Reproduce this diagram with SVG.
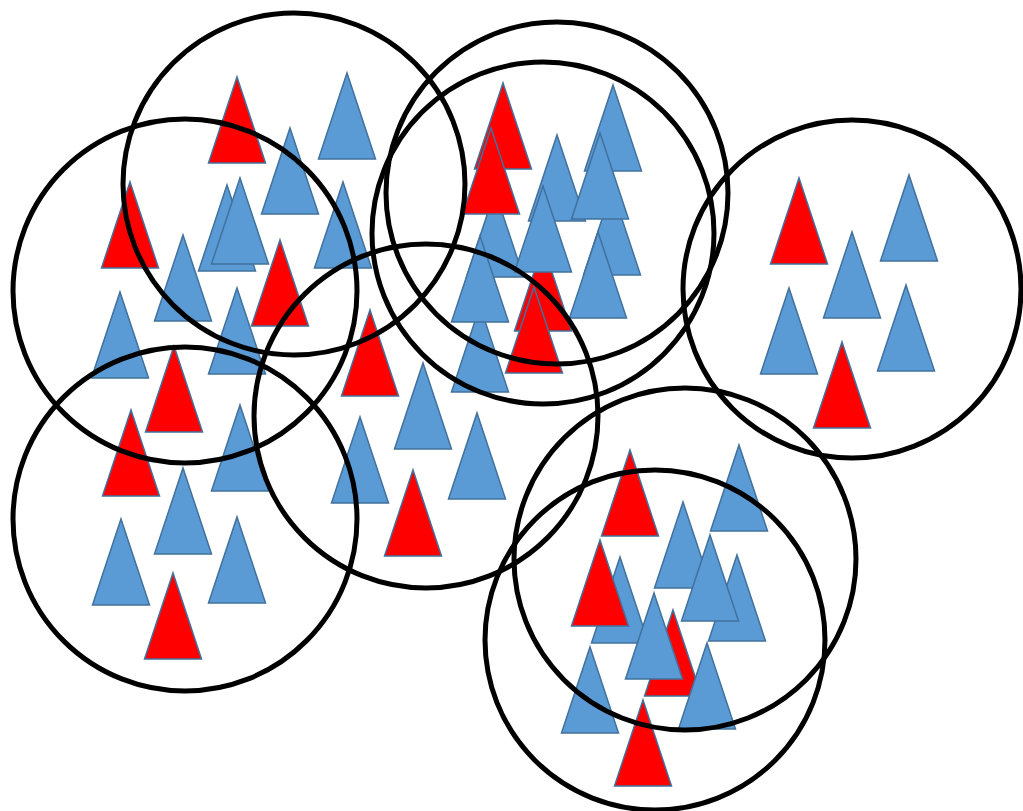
<svg xmlns="http://www.w3.org/2000/svg" width="1023" height="811" viewBox="0 0 1023 811">
<style>
.b{fill:#5B9BD5;stroke:#41719C;stroke-width:1.5}
.r{fill:#FF0000;stroke:#41719C;stroke-width:1.5}
.c{fill:none;stroke:#000;stroke-width:5}
</style>
<defs><path id="t" d="M0 0L28.5 86H-28.5Z"/></defs>
<rect width="1023" height="811" fill="#fff"/>
<g id="triangles-left">
<use href="#t" class="r" x="237" y="77"/>
<use href="#t" class="b" x="347" y="73"/>
<use href="#t" class="b" x="290" y="128"/>
<use href="#t" class="r" x="130" y="182"/>
<use href="#t" class="b" x="227" y="185"/>
<use href="#t" class="b" x="240" y="178"/>
<use href="#t" class="b" x="343" y="182"/>
<use href="#t" class="b" x="183" y="235"/>
<use href="#t" class="r" x="280" y="240"/>
<use href="#t" class="b" x="120" y="292"/>
<use href="#t" class="b" x="237" y="288"/>
<use href="#t" class="r" x="174" y="346"/>
<use href="#t" class="r" x="131" y="410"/>
<use href="#t" class="b" x="240" y="405"/>
<use href="#t" class="b" x="183" y="468"/>
<use href="#t" class="b" x="121" y="519"/>
<use href="#t" class="b" x="237" y="517"/>
<use href="#t" class="r" x="173" y="573"/>
</g>
<g id="triangles-middle">
<use href="#t" class="r" x="370" y="310"/>
<use href="#t" class="b" x="423" y="363"/>
<use href="#t" class="b" x="360" y="417"/>
<use href="#t" class="b" x="477" y="413"/>
<use href="#t" class="r" x="413" y="470"/>
</g>
<g id="triangles-top">
<use href="#t" class="r" x="503" y="83"/>
<use href="#t" class="b" x="495" y="191"/>
<use href="#t" class="r" x="491" y="128"/>
<use href="#t" class="b" x="613" y="85"/>
<use href="#t" class="b" x="612" y="189"/>
<use href="#t" class="b" x="557" y="135"/>
<use href="#t" class="b" x="600" y="133"/>
<use href="#t" class="r" x="543" y="245"/>
<use href="#t" class="b" x="543" y="186"/>
<use href="#t" class="b" x="598" y="232"/>
<use href="#t" class="b" x="480" y="306"/>
<use href="#t" class="b" x="480" y="236"/>
<use href="#t" class="r" x="534" y="287"/>
</g>
<g id="triangles-right">
<use href="#t" class="r" x="799" y="178"/>
<use href="#t" class="b" x="909" y="175"/>
<use href="#t" class="b" x="852" y="232"/>
<use href="#t" class="b" x="789" y="288"/>
<use href="#t" class="b" x="906" y="285"/>
<use href="#t" class="r" x="842" y="342"/>
</g>
<g id="triangles-bottom">
<use href="#t" class="r" x="630" y="450"/>
<use href="#t" class="b" x="739" y="445"/>
<use href="#t" class="b" x="620" y="557"/>
<use href="#t" class="r" x="600" y="540"/>
<use href="#t" class="b" x="683" y="502"/>
<use href="#t" class="b" x="737" y="555"/>
<use href="#t" class="b" x="710" y="535"/>
<use href="#t" class="r" x="673" y="610"/>
<use href="#t" class="b" x="654" y="593"/>
<use href="#t" class="b" x="707" y="643"/>
<use href="#t" class="b" x="590" y="647"/>
<use href="#t" class="r" x="643" y="700"/>
</g>
<g id="circles">
<circle class="c" cx="294" cy="184" r="171"/>
<circle class="c" cx="185" cy="291" r="172"/>
<circle class="c" cx="185" cy="519" r="172"/>
<circle class="c" cx="426" cy="416" r="172"/>
<circle class="c" cx="557" cy="193" r="171"/>
<circle class="c" cx="543" cy="233" r="171"/>
<circle class="c" cx="852" cy="289" r="169"/>
<circle class="c" cx="685" cy="559" r="171"/>
<circle class="c" cx="655" cy="640" r="170"/>
</g>
</svg>
